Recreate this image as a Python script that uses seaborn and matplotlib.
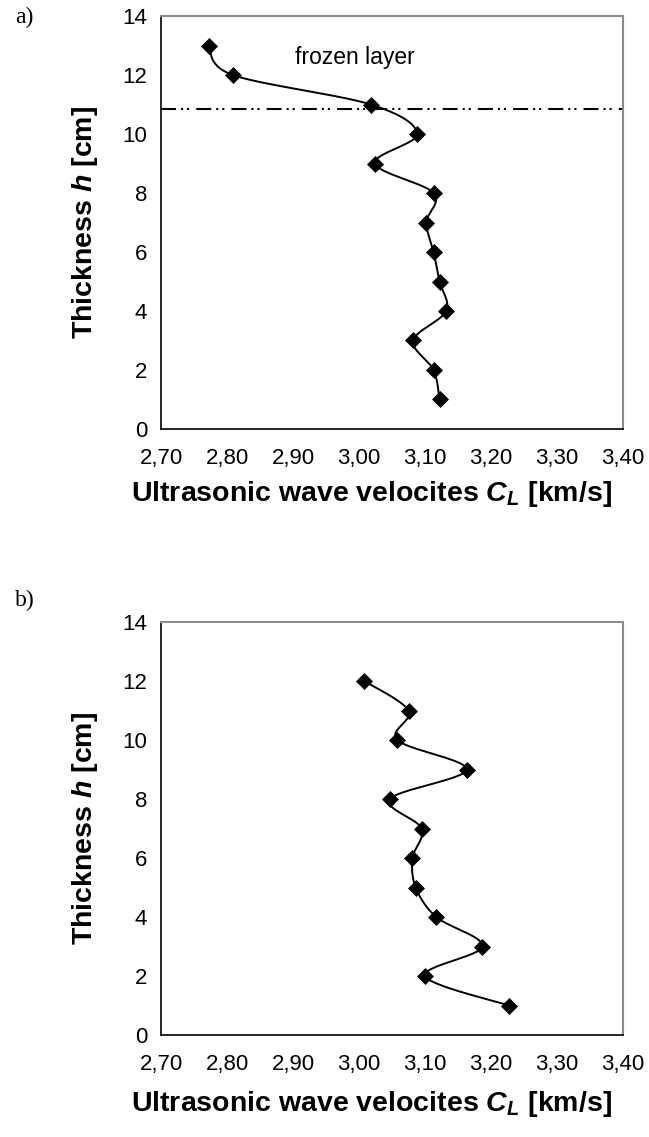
import numpy as np
import pandas as pd
import matplotlib
matplotlib.use("Agg")
import matplotlib.pyplot as plt
import seaborn as sns

# datos
h_a = [13, 12, 11, 10, 9, 8, 7, 6, 5, 4, 3, 2, 1]
cl_a = [2.772, 2.809, 3.018, 3.088, 3.024, 3.113, 3.102, 3.113, 3.122, 3.132, 3.082, 3.113, 3.122]

h_b = [12, 11, 10, 9, 8, 7, 6, 5, 4, 3, 2, 1]
cl_b = [3.008, 3.075, 3.058, 3.163, 3.047, 3.095, 3.081, 3.086, 3.117, 3.187, 3.100, 3.227]

frozen_h = 10.84
x_ticks = [2.70, 2.80, 2.90, 3.00, 3.10, 3.20, 3.30, 3.40]
y_ticks = [0, 2, 4, 6, 8, 10, 12, 14]

sns.set_theme(style="white")
plt.rcParams["font.family"] = ["Liberation Sans", "DejaVu Sans"]
plt.rcParams["mathtext.fontset"] = "custom"
plt.rcParams["mathtext.bfit"] = "Liberation Sans:italic:bold"
plt.rcParams["text.color"] = "black"
plt.rcParams["axes.labelcolor"] = "black"


def smooth(xs, ys, n=30):
    # curva suavizada tipo Excel (Bezier con tensión 1/6)
    p = np.column_stack([xs, ys]).astype(float)
    pts = []
    for i in range(len(p) - 1):
        p0 = p[i - 1] if i > 0 else p[i]
        p1, p2 = p[i], p[i + 1]
        p3 = p[i + 2] if i + 2 < len(p) else p[i + 1]
        c1 = p1 + (p2 - p0) / 6
        c2 = p2 - (p3 - p1) / 6
        t = np.linspace(0, 1, n)[:, None]
        seg = (1 - t) ** 3 * p1 + 3 * (1 - t) ** 2 * t * c1 + 3 * (1 - t) * t ** 2 * c2 + t ** 3 * p2
        pts.append(seg if i == 0 else seg[1:])
    pts = np.vstack(pts)
    return pd.DataFrame({"x": pts[:, 0], "y": pts[:, 1]})


def panel(ax, xs, ys, xlab_y):
    curve = smooth(xs, ys)
    sns.lineplot(data=curve, x="x", y="y", sort=False, estimator=None,
                 color="black", lw=1.4, ax=ax)
    sns.scatterplot(x=xs, y=ys, marker="D", s=75, color="black",
                    edgecolor="black", linewidth=0, ax=ax, zorder=3)
    ax.set_xlim(2.70, 3.40)
    ax.set_ylim(0, 14)
    ax.set_xticks(x_ticks)
    ax.set_xticklabels([f"{v:.2f}".replace(".", ",") for v in x_ticks])
    ax.set_yticks(y_ticks)
    ax.tick_params(axis="both", direction="out", length=5, width=1, color="#333333",
                   labelsize=16, labelcolor="black")
    ax.tick_params(axis="x", pad=9)
    ax.tick_params(axis="y", pad=5)
    for s in ["left", "bottom"]:
        ax.spines[s].set_color("black")
        ax.spines[s].set_linewidth(1.2)
    for s in ["top", "right"]:
        ax.spines[s].set_color("#8c8c8c")
        ax.spines[s].set_linewidth(1.5)
    ax.set_xlabel(r"Ultrasonic wave velocites $\mathbfit{C}_{\mathbfit{L}}$ [km/s]",
                  fontsize=20.5, fontweight="bold")
    ax.set_ylabel(r"Thickness $\mathbfit{h}$ [cm]", fontsize=20.5, fontweight="bold")
    ax.xaxis.set_label_coords(0.455, xlab_y)
    ax.yaxis.set_label_coords(-0.132, 0.5)


fig = plt.figure(figsize=(6.49, 11.37), dpi=100)
ax_a = fig.add_axes([0.2481, 0.6227, 0.7119, 0.3632])
ax_b = fig.add_axes([0.2481, 0.0897, 0.7119, 0.3632])

panel(ax_a, cl_a, h_a, -0.12)
ax_a.axhline(frozen_h, color="black", lw=1.5, linestyle=(0, (7.2, 2.4, 1, 1.9, 1, 3.4)))
ax_a.text(2.994, 12.58, "frozen layer", fontsize=16.5, ha="center", va="center")

panel(ax_b, cl_b, h_b, -0.13)

fig.text(15 / 649, 1 - 17 / 1137, "a)", family="Liberation Serif", fontsize=17, va="center")
fig.text(15 / 649, 1 - 600 / 1137, "b)", family="Liberation Serif", fontsize=17, va="center")

fig.savefig("out.png", dpi=100)
